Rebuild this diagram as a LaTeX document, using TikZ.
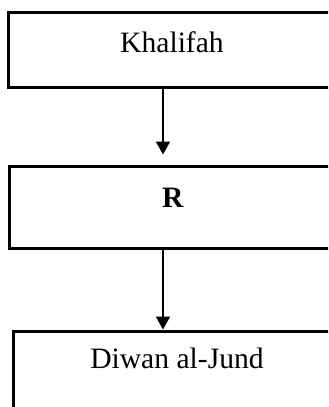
\documentclass[tikz,border=0pt]{standalone}
\usepackage{fontspec}
\setmainfont{Liberation Serif}
\usepackage{tikz}
\usetikzlibrary{positioning,arrows.meta}
\tikzset{
  line/.style = {-{Triangle[width=7pt,length=6.5pt]}, line width=1pt},
  box/.style  = {draw, line width=1.5pt, align=center, inner sep=0pt,
                 minimum width=164pt, font=\fontsize{14.8}{18}\selectfont},
  topbox/.style = {box, text height=20.5pt, text depth=17pt},
  midbox/.style = {box, text height=20.5pt, text depth=20.5pt},
  lowbox/.style = {box, text height=18.5pt, text depth=40pt},
}

\begin{document}
\begin{tikzpicture}[x=0.5pt, y=-0.5pt]
  \clip (0,0) rectangle (328,407);
  \coordinate (axis) at (163,0);
  \node[topbox] (khalifah) at (172,49.5) {Khalifah};
  \node[midbox, below=38pt of khalifah, xshift=0.5pt] (r) {\textbf{R}};
  \node[lowbox, below=40pt of r, xshift=2pt] (diwan) {Diwan al-Jund};
  \draw[line, shorten >=5pt] (khalifah.south -| axis) -- (r.north -| axis);
  \draw[line] (r.south -| axis) -- (diwan.north -| axis);
\end{tikzpicture}
\end{document}
